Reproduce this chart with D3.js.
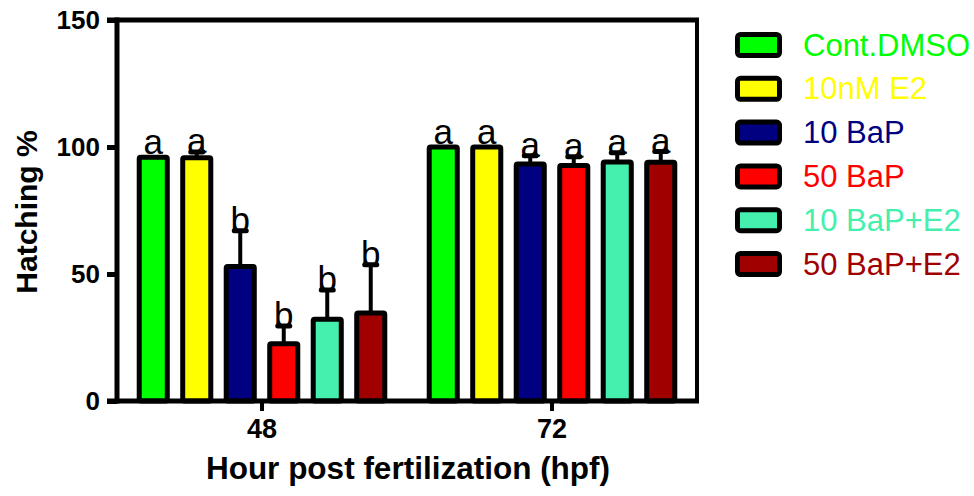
<!DOCTYPE html>
<html>
<head>
<meta charset="utf-8">
<script src="https://cdn.jsdelivr.net/npm/d3@7"></script>
<style>
  body { margin: 0; background: #fff; }
  svg { display: block; font-family: Arial, "Liberation Sans", sans-serif; }
</style>
</head>
<body>
<svg width="974" height="496"></svg>
<script>
// hatching data
const groups = ["48", "72"]
const series = ["Cont.DMSO", "10nM E2", "10 BaP", "50 BaP", "10 BaP+E2", "50 BaP+E2"]
const colors = ["#00FF00", "#FFFF00", "#000080", "#FF0000", "#45F0AF", "#A00000"]
const means48 = [96, 95.8, 53, 22.5, 32.2, 34.6]
const errs48 = [0, 2.2, 14, 7, 11.5, 19]
const means72 = [100, 100, 93.3, 92.7, 94.1, 94]
const errs72 = [0, 0, 3.3, 3.5, 3.6, 4.2]
const letters48 = ["a", "a", "b", "b", "b", "b"]
const letters72 = ["a", "a", "a", "a", "a", "a"]
const yTicks = [0, 50, 100, 150]

const rows = []
groups.forEach((g, gi) => {
  const m = gi === 0 ? means48 : means72
  const e = gi === 0 ? errs48 : errs72
  const l = gi === 0 ? letters48 : letters72
  series.forEach((s, i) => rows.push({group: g, series: s, color: colors[i], mean: m[i], err: e[i], letter: l[i]}))
})

const svg = d3.select("svg")
const pLeft = 117, pRight = 697, pTop = 20, pBottom = 401
const sw = 5

const x0 = d3.scaleBand().domain(groups).range([pLeft, pRight]).padding(0)
const x1 = d3.scaleBand().domain(series).range([-130.5, 130.5]).paddingInner(0.24).paddingOuter(0.12)
const y = d3.scaleLinear().domain([0, 150]).range([pBottom, pTop])

const cx = d => x0(d.group) + x0.bandwidth() / 2 + x1(d.series) + x1.bandwidth() / 2

// error bars (behind the bars)
const eb = svg.append("g").selectAll("g").data(rows.filter(d => d.err > 0)).join("g")
eb.append("line")
  .attr("x1", cx).attr("x2", cx)
  .attr("y1", d => y(d.mean)).attr("y2", d => y(d.mean + d.err))
  .attr("stroke", "#000").attr("stroke-width", 4)
eb.append("line")
  .attr("x1", d => cx(d) - 6).attr("x2", d => cx(d) + 6)
  .attr("y1", d => y(d.mean + d.err)).attr("y2", d => y(d.mean + d.err))
  .attr("stroke", "#000").attr("stroke-width", 5).attr("stroke-linecap", "round")

// bars
svg.append("g").selectAll("rect").data(rows).join("rect")
  .attr("x", d => cx(d) - (x1.bandwidth() - sw) / 2)
  .attr("width", x1.bandwidth() - sw)
  .attr("y", d => y(d.mean))
  .attr("height", d => pBottom - y(d.mean))
  .attr("rx", 1.5)
  .attr("fill", d => d.color)
  .attr("stroke", "#000")
  .attr("stroke-width", sw)

// significance letters
svg.append("g").selectAll("text").data(rows).join("text")
  .attr("x", cx)
  .attr("y", d => d.err > 0 ? y(d.mean + d.err) + 1 : y(d.mean) - 3)
  .attr("text-anchor", "middle")
  .attr("font-size", "35px")
  .attr("fill", "#000")
  .text(d => d.letter)

// frame top and right
svg.append("line").attr("x1", pLeft - 10).attr("x2", pRight + 2).attr("y1", pTop).attr("y2", pTop)
  .attr("stroke", "#000").attr("stroke-width", 5)
svg.append("line").attr("x1", pRight).attr("x2", pRight).attr("y1", pTop).attr("y2", pBottom)
  .attr("stroke", "#000").attr("stroke-width", 4)

// y axis
const yAxis = svg.append("g").attr("transform", `translate(${pLeft},0)`)
  .call(d3.axisLeft(y).tickValues(yTicks).tickSize(10).tickPadding(7))
yAxis.select(".domain").attr("stroke-width", 5).attr("d", `M0,${pTop - 2.5}V${pBottom + 2.5}`)
yAxis.selectAll(".tick line").attr("stroke-width", 5)
yAxis.selectAll(".tick text").attr("font-size", "26px").attr("font-weight", "bold")
  .attr("font-family", "Arial, 'Liberation Sans', sans-serif").attr("fill", "#000")

// x axis
const xAxis = svg.append("g").attr("transform", `translate(0,${pBottom})`)
  .call(d3.axisBottom(x0).tickSize(10).tickPadding(8))
xAxis.select(".domain").attr("stroke-width", 5).attr("d", `M${pLeft - 10},0H${pRight + 2}`)
xAxis.selectAll(".tick line").attr("stroke-width", 4)
xAxis.selectAll(".tick text").attr("font-size", "27px").attr("font-weight", "bold")
  .attr("font-family", "Arial, 'Liberation Sans', sans-serif").attr("fill", "#000")

// axis titles
svg.append("text")
  .attr("x", 408).attr("y", 479)
  .attr("text-anchor", "middle")
  .attr("font-size", "31.5px").attr("font-weight", "bold")
  .text("Hour post fertilization (hpf)")

svg.append("text")
  .attr("transform", "translate(37,212) rotate(-90)")
  .attr("text-anchor", "middle")
  .attr("font-size", "30px").attr("font-weight", "bold")
  .text("Hatching %")

// legend
const legend = svg.append("g").selectAll("g").data(series).join("g")
  .attr("transform", (d, i) => `translate(735,${32 + i * 43.8})`)
legend.append("rect")
  .attr("x", sw / 2).attr("y", sw / 2)
  .attr("width", 42).attr("height", 21)
  .attr("rx", 3)
  .attr("fill", (d, i) => colors[i])
  .attr("stroke", "#000").attr("stroke-width", sw)
legend.append("text")
  .attr("x", 68).attr("y", 23.5)
  .attr("font-size", "31px")
  .attr("fill", (d, i) => colors[i])
  .text(d => d)
</script>
</body>
</html>
